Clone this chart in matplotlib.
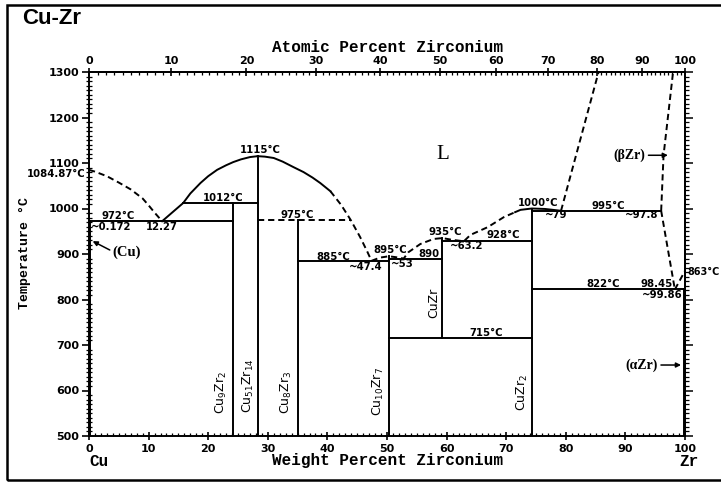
import numpy as np
import matplotlib
matplotlib.use("Agg")
import matplotlib.pyplot as plt
from matplotlib.patches import Rectangle
from matplotlib.ticker import MultipleLocator, NullFormatter

plt.rcParams['mathtext.default'] = 'regular'

# ---------------- data (weight % Zr, temperature degC) ----------------
CU, ZR = 63.546, 91.224

liq_cu_x = [0, 1, 3, 5, 7, 9, 10, 11, 12.27]
liq_cu_t = [1084.87, 1081, 1071, 1057, 1042, 1022, 1007, 991, 972]

liq_rise_x = [12.27, 13.5, 15.8, 17, 18.7, 20, 21.5, 23, 24.2, 25.5, 27, 28.3]
liq_rise_t = [972, 986, 1012, 1033, 1056, 1071, 1085, 1095, 1102, 1108, 1113, 1115]

liq_fall_x = [28.3, 29.5, 31, 32.5, 34.3, 36, 37.5, 38.8, 40.5]
liq_fall_t = [1115, 1114, 1111, 1103, 1091, 1080, 1068, 1056, 1038]

liq_fall_d_x = [40.5, 42.3, 43.9, 45.5, 46.7, 47.4]
liq_fall_d_t = [1038, 1008, 975, 937, 905, 885]

liq_mid_x = [47.4, 48.8, 50.3, 51.5, 52.8, 53.6, 55.6, 57.8, 59.3, 61, 62.9,
             64, 66.9, 69.6, 71.5]
liq_mid_t = [885, 892, 895, 893, 890, 904, 922, 933, 935, 931, 928,
             942, 959, 981, 992]

liq_top_x = [71.5, 72.4, 74.3, 76.5, 79.2]
liq_top_t = [992, 997, 1000, 999, 995]

liq_zr_x = [79.2, 85.5]
liq_zr_t = [995, 1300]

sol_bzr_x = [96.0, 96.4, 98.0]
sol_bzr_t = [995, 1117, 1300]

bzr_low_x = [96.0, 98.3]
bzr_low_t = [995, 822]

trans_x = [98.3, 100]
trans_t = [822, 863]

# horizontal invariant lines: (T, x_start, x_end, dashed)
invariants = [
    (972, 0.0, 24.2, False),
    (1012, 15.8, 28.3, False),
    (975, 28.3, 43.9, True),
    (885, 35.0, 50.3, False),
    (890, 50.3, 59.3, False),
    (928, 59.3, 74.3, False),
    (995, 74.3, 96.0, False),
    (822, 74.3, 99.86, False),
    (715, 50.3, 74.3, False),
]

# compound lines: (x, T_low, T_high)
compounds = [
    (24.2, 500, 1012),
    (28.3, 500, 1115),
    (35.0, 500, 975),
    (50.3, 500, 895),
    (59.3, 715, 935),
    (74.3, 500, 1000),
    (0.172, 500, 972),
    (99.86, 500, 822),
]

compound_labels = [
    ("Cu$_9$Zr$_2$", 22.3, 595),
    ("Cu$_{51}$Zr$_{14}$", 26.7, 610),
    ("Cu$_8$Zr$_3$", 33.2, 595),
    ("Cu$_{10}$Zr$_7$", 48.5, 597),
    ("CuZr$_2$", 72.7, 595),
    ("CuZr", 57.9, 792),
]

temp_labels = [
    ("1084.87°C", -0.6, 1076, 'right'),
    ("972°C", 4.9, 983, 'center'),
    ("~0.172", 3.7, 959, 'center'),
    ("12.27", 12.2, 959, 'center'),
    ("1012°C", 22.5, 1023, 'center'),
    ("1115°C", 28.7, 1129, 'center'),
    ("975°C", 34.9, 986, 'center'),
    ("885°C", 40.9, 894, 'center'),
    ("~47.4", 46.4, 871, 'center'),
    ("895°C", 50.5, 909, 'center'),
    ("~53", 52.5, 879, 'center'),
    ("890", 57.0, 901, 'center'),
    ("935°C", 59.7, 948, 'center'),
    ("~63.2", 63.4, 917, 'center'),
    ("928°C", 69.5, 941, 'center'),
    ("1000°C", 75.3, 1012, 'center'),
    ("~79", 78.4, 985, 'center'),
    ("995°C", 87.1, 1006, 'center'),
    ("~97.8", 92.8, 985, 'center'),
    ("822°C", 86.2, 834, 'center'),
    ("98.45", 95.3, 834, 'center'),
    ("~99.86", 96.1, 810, 'center'),
    ("715°C", 66.6, 726, 'center'),
]

temp_ticks = [500, 600, 700, 800, 900, 1000, 1100, 1200, 1300]
wt_ticks = [0, 10, 20, 30, 40, 50, 60, 70, 80, 90, 100]
at_ticks = [0, 10, 20, 30, 40, 50, 60, 70, 80, 90, 100]


def wt2at(w):
    w = np.clip(np.asarray(w, dtype=float), 0, 100)
    return 100 * (w / ZR) / (w / ZR + (100 - w) / CU)


def at2wt(a):
    a = np.clip(np.asarray(a, dtype=float), 0, 100)
    return 100 * a * ZR / (a * ZR + (100 - a) * CU)


# ---------------- figure ----------------
W, H = 721, 482
fig = plt.figure(figsize=(W / 100, H / 100), dpi=100)
fig.patch.set_facecolor('white')
ax = fig.add_axes([89 / W, 1 - 436 / H, 596 / W, 364 / H])
ax.set_xlim(0, 100)
ax.set_ylim(500, 1300)
for s in ax.spines.values():
    s.set_linewidth(1.4)

lw = 1.4
dash = (0, (3.2, 2.0))
k = 'black'

ax.plot(liq_cu_x, liq_cu_t, color=k, lw=lw, ls=dash)
ax.plot(liq_rise_x, liq_rise_t, color=k, lw=lw)
ax.plot(liq_fall_x, liq_fall_t, color=k, lw=lw)
ax.plot(liq_fall_d_x, liq_fall_d_t, color=k, lw=lw, ls=dash)
ax.plot(liq_mid_x, liq_mid_t, color=k, lw=lw, ls=dash)
ax.plot(liq_top_x, liq_top_t, color=k, lw=lw)
ax.plot(liq_zr_x, liq_zr_t, color=k, lw=lw, ls=dash, clip_on=False)
ax.plot(sol_bzr_x, sol_bzr_t, color=k, lw=lw, ls=dash, clip_on=False)
ax.plot(bzr_low_x, bzr_low_t, color=k, lw=lw, ls=dash)
ax.plot(trans_x, trans_t, color=k, lw=lw, ls=dash)

for T, x0, x1, d in invariants:
    ax.plot([x0, x1], [T, T], color=k, lw=lw, ls=dash if d else '-')
for x, t0, t1 in compounds:
    ax.plot([x, x], [t0, t1], color=k, lw=lw)

for txt, x, T in compound_labels:
    ax.text(x, T, txt, rotation=90, ha='center', va='center', fontsize=9,
            family='DejaVu Sans')

for txt, x, T, ha in temp_labels:
    ax.text(x, T, txt, ha=ha, va='center', fontsize=7.3, family='DejaVu Sans',
            fontweight='bold', clip_on=False)
ax.text(100.4, 861, "863°C", ha='left', va='center', fontsize=6.9,
        family='DejaVu Sans', fontweight='bold', clip_on=False)

# phase labels
ax.text(59.3, 1118, "L", ha='center', va='center', fontsize=15,
        family='Liberation Serif')
ax.text(93.3, 1117, "(βZr)", ha='right', va='center', fontsize=10,
        family='Liberation Serif', fontweight='bold')
ax.annotate("", xy=(97.6, 1117), xytext=(93.4, 1117),
            arrowprops=dict(arrowstyle='-|>', color=k, lw=1.1,
                            mutation_scale=7))
ax.text(95.4, 656, "(αZr)", ha='right', va='center', fontsize=10,
        family='Liberation Serif', fontweight='bold')
ax.annotate("", xy=(99.8, 656), xytext=(95.5, 656),
            arrowprops=dict(arrowstyle='-|>', color=k, lw=1.1,
                            mutation_scale=7))
ax.text(4.0, 903, "(Cu)", ha='left', va='center', fontsize=10.5,
        family='Liberation Serif', fontweight='bold')
ax.annotate("", xy=(0.2, 931), xytext=(3.9, 906),
            arrowprops=dict(arrowstyle='-|>', color=k, lw=1.1,
                            mutation_scale=7))

# ticks: bottom & left
ax.set_xticks(wt_ticks)
ax.set_yticks(temp_ticks)
ax.xaxis.set_minor_locator(MultipleLocator(1))
ax.yaxis.set_minor_locator(MultipleLocator(10))
ax.tick_params(axis='x', which='major', direction='inout', length=6, width=1.2,
               labelsize=8, pad=3)
ax.tick_params(axis='x', which='minor', direction='in', length=2.5, width=0.9)
ax.tick_params(axis='y', which='major', direction='out', length=5, width=1.2,
               labelsize=8, pad=2)
ax.tick_params(axis='y', which='minor', direction='inout', length=4, width=0.9)
for lab in ax.get_xticklabels() + ax.get_yticklabels():
    lab.set_fontweight('bold')
    lab.set_family('DejaVu Sans')

# top axis: atomic percent
sec = ax.secondary_xaxis('top', functions=(wt2at, at2wt))
sec.set_xticks(at_ticks)
sec.xaxis.set_minor_locator(MultipleLocator(1))
sec.tick_params(axis='x', which='major', direction='inout', length=6, width=1.2,
                labelsize=8, pad=1)
sec.tick_params(axis='x', which='minor', direction='in', length=2.5, width=0.9)
sec.spines['top'].set_linewidth(1.4)
for lab in sec.get_xticklabels():
    lab.set_fontweight('bold')
    lab.set_family('DejaVu Sans')

# right axis: ticks only
secy = ax.secondary_yaxis('right')
secy.set_yticks(temp_ticks)
secy.yaxis.set_minor_locator(MultipleLocator(10))
secy.yaxis.set_major_formatter(NullFormatter())
secy.tick_params(axis='y', which='major', direction='out', length=6, width=1.1)
secy.tick_params(axis='y', which='minor', direction='out', length=3, width=0.9)
secy.spines['right'].set_linewidth(1.4)

# axis titles
mono = 'Liberation Mono'
fig.text(387 / W, 1 - 47 / H, "Atomic Percent Zirconium", ha='center',
         va='center', fontsize=11.5, family=mono, fontweight='bold')
fig.text(387 / W, 1 - 461 / H, "Weight Percent Zirconium", ha='center',
         va='center', fontsize=11.5, family=mono, fontweight='bold')
fig.text(25 / W, 1 - 253 / H, "Temperature °C", ha='center', va='center',
         rotation=90, fontsize=9.5, family=mono, fontweight='bold')
fig.text(99 / W, 1 - 462 / H, "Cu", ha='center', va='center', fontsize=11.5,
         family=mono, fontweight='bold')
fig.text(689 / W, 1 - 462 / H, "Zr", ha='center', va='center', fontsize=11.5,
         family=mono, fontweight='bold')

# title
fig.text(22 / W, 1 - 18 / H, "Cu-Zr", ha='left', va='center', fontsize=16,
         family='Liberation Sans', fontweight='bold')

# outer frame
fig.patches.append(Rectangle((7 / W, 1 - 480 / H), 730 / W, 475 / H,
                             transform=fig.transFigure, fill=False,
                             lw=1.8, edgecolor=k))

fig.savefig("out.png", dpi=100)
